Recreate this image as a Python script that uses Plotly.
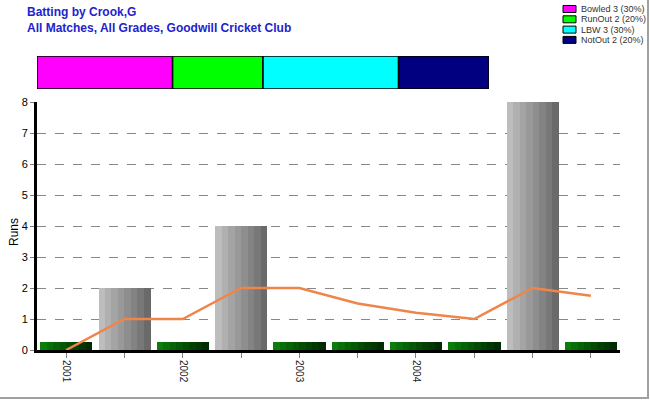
import plotly.graph_objects as go

# ---- data ----
innings_labels = ["2001", "", "2002", "", "2003", "", "2004", "", "", ""]
runs = [0, 2, 0, 4, 0, 0, 0, 0, 8, 0]
average = [0, 1, 1, 2, 2, 1.5, 1.2, 1, 2, 1.75]
duck_height = 0.25
dismissal_names = ["Bowled", "RunOut", "LBW", "NotOut"]
dismissal_counts = [3, 2, 3, 2]
dismissal_colors = ["#ff00ff", "#00ff00", "#00ffff", "#000080"]
y_title = "Runs"

gray_stripes = ["#bdbdbd", "#b0b0b0", "#a4a4a4", "#999999", "#8e8e8e", "#838383", "#787878", "#6a6a6a"]
green_stripes = ["#0b7d0b", "#087008", "#066406", "#055805", "#044c04", "#034003", "#023602", "#012c01"]

W, H = 650, 400
PL, PR, PT, PB = 37, 620, 102, 350  # plot area in page pixels
ML, MR, MT, MB = PL, W - PR, 50, H - PB
PW, PH = W - ML - MR, H - MT - MB

def px_x(p):
    return (p - ML) / PW

def px_y(p):
    return (H - MB - p) / PH

fig = go.Figure()

idx = list(range(len(runs)))
bar_w = 0.89
n_s = len(gray_stripes)
sw = bar_w / n_s
for s in range(n_s):
    xs = [i for i in idx if runs[i] > 0]
    ys = [runs[i] for i in idx if runs[i] > 0]
    fig.add_trace(go.Bar(x=xs, y=ys, base=0, offset=-bar_w / 2 + s * sw, width=sw * 1.05,
                         marker=dict(color=gray_stripes[s], line=dict(width=0)),
                         showlegend=False, hoverinfo="skip"))
    xd = [i for i in idx if runs[i] == 0]
    yd = [duck_height for i in idx if runs[i] == 0]
    fig.add_trace(go.Bar(x=xd, y=yd, base=0, offset=-bar_w / 2 + s * sw, width=sw * 1.05,
                         marker=dict(color=green_stripes[s], line=dict(width=0)),
                         showlegend=False, hoverinfo="skip"))

fig.add_trace(go.Scatter(x=idx, y=average, mode="lines",
                         line=dict(color="#f0854a", width=2.5), showlegend=False))

# stacked dismissal bar
total = sum(dismissal_counts)
cum = 0
for name, cnt, col in zip(dismissal_names, dismissal_counts, dismissal_colors):
    fig.add_trace(go.Bar(x=[cnt], y=[0], base=[cum], orientation="h", width=1,
                         marker=dict(color=col, line=dict(color="black", width=1.5)),
                         xaxis="x2", yaxis="y2", showlegend=False, name=name))
    cum += cnt

# compact legend
shapes = []
annotations = []
for k, (name, cnt, col) in enumerate(zip(dismissal_names, dismissal_counts, dismissal_colors)):
    cy = 9 + k * 10.3
    shapes.append(dict(type="rect", xref="paper", yref="paper",
                       x0=px_x(563), x1=px_x(576), y0=px_y(cy + 3.5), y1=px_y(cy - 3.5),
                       fillcolor=col, line=dict(color="black", width=1)))
    annotations.append(dict(xref="paper", yref="paper", x=px_x(579), y=px_y(cy),
                            text=f"{name} {cnt} ({round(100 * cnt / total)}%)",
                            showarrow=False, xanchor="left", yanchor="middle",
                            font=dict(family="Liberation Sans, Arial", size=9, color="#333333")))

# titles
annotations.append(dict(xref="paper", yref="paper", x=px_x(25), y=px_y(12),
                        text="<b>Batting by Crook,G</b>", showarrow=False,
                        xanchor="left", yanchor="middle",
                        font=dict(family="Liberation Sans, Arial", size=12, color="#2222cc")))
annotations.append(dict(xref="paper", yref="paper", x=px_x(25), y=px_y(28),
                        text="<b>All Matches, All Grades, Goodwill Cricket Club</b>", showarrow=False,
                        xanchor="left", yanchor="middle",
                        font=dict(family="Liberation Sans, Arial", size=12, color="#2222cc")))
# y-axis title
annotations.append(dict(xref="paper", yref="paper", x=px_x(14), y=px_y(232),
                        text=y_title, showarrow=False, textangle=-90,
                        xanchor="center", yanchor="middle",
                        font=dict(family="Liberation Sans, Arial", size=12, color="black")))

shapes.append(dict(type="line", xref="paper", yref="paper", x0=px_x(648), x1=px_x(648),
                   y0=px_y(0), y1=px_y(398), line=dict(color="#a0a0a0", width=2)))
shapes.append(dict(type="line", xref="paper", yref="paper", x0=px_x(0), x1=px_x(649),
                   y0=px_y(398), y1=px_y(398), line=dict(color="#a0a0a0", width=2)))

fig.update_layout(
    width=W, height=H,
    margin=dict(l=ML, r=MR, t=MT, b=MB, autoexpand=False),
    paper_bgcolor="white", plot_bgcolor="white",
    barmode="overlay", bargap=0,
    font=dict(family="Liberation Sans, Arial", size=11, color="black"),
    xaxis=dict(domain=[0, 1], range=[-0.5, 9.5], tickmode="array", tickvals=idx,
               ticktext=innings_labels, tickangle=90, ticks="outside", ticklen=5,
               tickcolor="#808080", showgrid=False, zeroline=False, automargin=False,
               showline=True, linecolor="black", linewidth=3,
               tickfont=dict(size=10, color="#222222")),
    yaxis=dict(domain=[0, px_y(PT)], range=[0, 8], dtick=1, ticks="outside", ticklen=4,
               tickcolor="#808080", showgrid=True, gridcolor="#888888", griddash="dash",
               gridwidth=1, zeroline=False, showline=True, linecolor="black", linewidth=3,
               automargin=False, tickfont=dict(size=11)),
    xaxis2=dict(domain=[0, px_x(489)], range=[0, total], visible=False, anchor="y2"),
    yaxis2=dict(domain=[px_y(89), px_y(56)], range=[-0.5, 0.5], visible=False, anchor="x2"),
    shapes=shapes, annotations=annotations,
)

fig.write_html("out.html", config={"displayModeBar": False, "staticPlot": True},
               post_script="document.body.style.margin='0';document.body.style.overflow='hidden';")
